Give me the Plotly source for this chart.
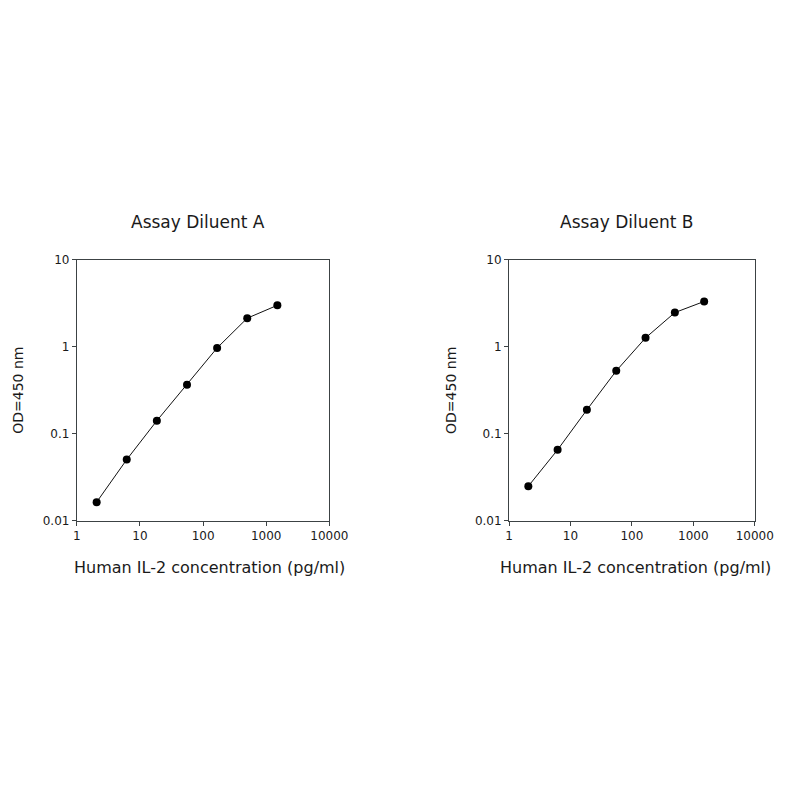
import plotly.graph_objects as go

# standard curve, 3-fold dilution series (pg/ml)
conc = [2.06, 6.17, 18.5, 55.6, 166.7, 500, 1500]
od_a = [0.0164, 0.0505, 0.141, 0.366, 0.966, 2.12, 2.98]
od_b = [0.025, 0.0654, 0.188, 0.527, 1.26, 2.46, 3.30]

panel_titles = ["Assay Diluent A", "Assay Diluent B"]
x_label = "Human IL-2 concentration (pg/ml)"
y_label = "OD=450 nm"

x_tickvals = [1, 10, 100, 1000, 10000]
x_ticktext = ["1", "10", "100", "1000", "10000"]
y_tickvals = [0.01, 0.1, 1, 10]
y_ticktext = ["0.01", "0.1", "1", "10"]

FONT = "DejaVu Sans"
INK = "#1a1a1a"
FRAME = "#3c4244"
W = 800


def px_x(px):
    return px / W


def px_y(px):
    return 1 - px / W


fig = go.Figure()

for i, od in enumerate([od_a, od_b]):
    suffix = "" if i == 0 else "2"
    fig.add_trace(go.Scatter(
        x=conc, y=od, mode="lines+markers",
        line=dict(color="#111111", width=1),
        marker=dict(color="black", size=8),
        xaxis="x" + suffix, yaxis="y" + suffix,
        showlegend=False, hoverinfo="skip",
    ))

# panel frames in screen pixels
x_frames = [(75, 335), (520, 773)]
y_frame = (257, 523)
title_dx = [-5, -5]
xlab_dx = [7, 4]

x_domains = [[px_x(a), px_x(b)] for a, b in x_frames]
y_domain = [px_y(y_frame[1]), px_y(y_frame[0])]

axis_common = dict(
    type="log", showgrid=False, zeroline=False,
    showline=True, linecolor=FRAME, linewidth=1, mirror=True,
    ticks="outside", ticklen=4, tickcolor=FRAME,
    tickfont=dict(family=FONT, size=12, color=INK),
)

layout = dict(
    width=W, height=W,
    margin=dict(l=0, r=0, t=0, b=0),
    paper_bgcolor="white", plot_bgcolor="white",
    font=dict(family=FONT, color=INK),
)

annotations = []
for i in range(2):
    suffix = "" if i == 0 else str(i + 1)
    layout["xaxis" + suffix] = dict(
        axis_common, domain=x_domains[i], range=[0, 4],
        tickvals=x_tickvals, ticktext=x_ticktext,
        anchor="y" + suffix,
    )
    layout["yaxis" + suffix] = dict(
        axis_common, domain=y_domain, range=[-2, 1],
        tickvals=y_tickvals, ticktext=y_ticktext,
        anchor="x" + suffix,
    )
    cx = (x_frames[i][0] + x_frames[i][1]) / 2
    annotations.append(dict(
        text=panel_titles[i], xref="paper", yref="paper",
        x=px_x(cx + title_dx[i]), y=px_y(219), showarrow=False,
        font=dict(family=FONT, size=17, color=INK),
        xanchor="center", yanchor="middle",
    ))
    annotations.append(dict(
        text=x_label, xref="paper", yref="paper",
        x=px_x(cx + xlab_dx[i]), y=px_y(570), showarrow=False,
        font=dict(family=FONT, size=16, color=INK),
        xanchor="center", yanchor="middle",
    ))
    annotations.append(dict(
        text=y_label, xref="paper", yref="paper",
        x=px_x(x_frames[i][0] - 60), y=px_y(sum(y_frame) / 2),
        showarrow=False, textangle=-90,
        font=dict(family=FONT, size=14, color=INK),
        xanchor="center", yanchor="middle",
    ))

layout["annotations"] = annotations
fig.update_layout(**layout)

# drop the default body margin so the 800px figure sits flush in the window
fig.write_html(
    "out.html",
    config={"displayModeBar": False},
    post_script="document.body.style.margin='0';"
                "document.documentElement.style.overflow='hidden';",
)
